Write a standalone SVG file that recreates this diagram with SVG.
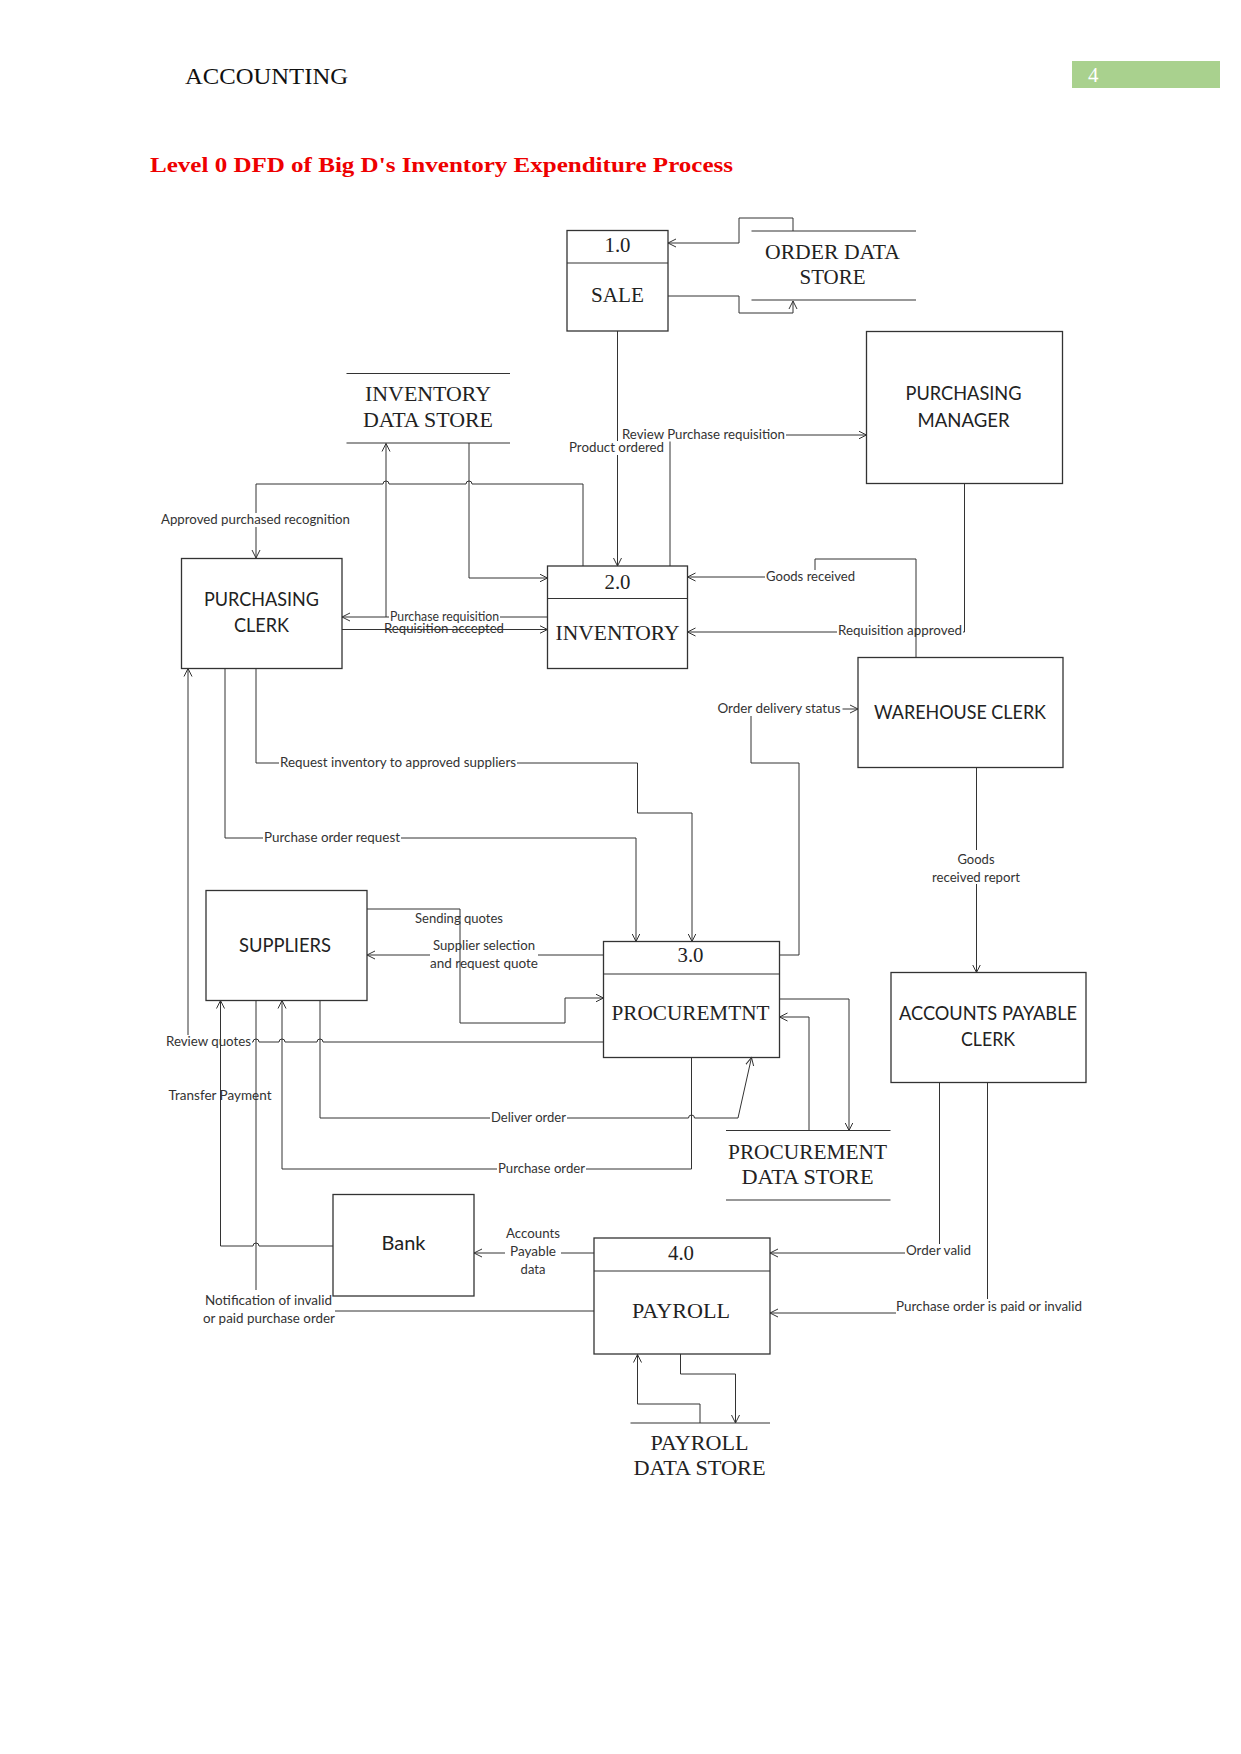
<svg xmlns="http://www.w3.org/2000/svg" width="1241" height="1754" viewBox="0 0 1241 1754">
<defs>
<marker id="arr" markerUnits="userSpaceOnUse" markerWidth="10" markerHeight="10" refX="8" refY="5" orient="auto" viewBox="0 0 10 10">
<path d="M0,1 L8,5 L0,9" fill="none" stroke="#333" stroke-width="1"/>
</marker>
<style>
.box{fill:none;stroke:#333;stroke-width:1.3}
.st{stroke:#333;stroke-width:1.2;fill:none}
.c{fill:none;stroke:#333;stroke-width:1}
.a{marker-end:url(#arr)}
.m{fill:#fff;stroke:none}
.serif{font-family:"Liberation Serif","Times New Roman",serif;fill:#222;text-anchor:middle;font-size:21px}
.num{font-size:20px}
.ent{font-family:Lato,"Liberation Sans",sans-serif;fill:#222;text-anchor:middle;font-size:18.5px}
.lbl{font-family:Lato,"Liberation Sans",sans-serif;fill:#333;font-size:13px;text-anchor:middle}
</style>
</defs>
<rect x="0" y="0" width="1241" height="1754" fill="#fff"/>

<g id="header">
<text x="185" y="83.5" font-family="Liberation Serif, Times New Roman, serif" font-size="24" fill="#111" textLength="163" lengthAdjust="spacingAndGlyphs">ACCOUNTING</text>
<rect x="1072" y="61" width="148" height="27" fill="#a9d18e"/>
<text x="1088" y="82" font-family="Liberation Serif, Times New Roman, serif" font-size="21" fill="#fff">4</text>
<text x="150" y="172" font-family="Liberation Serif, Times New Roman, serif" font-size="22" font-weight="bold" fill="#ee0000" textLength="583" lengthAdjust="spacingAndGlyphs">Level 0 DFD of Big D's Inventory Expenditure Process</text>
</g>

<g id="connectors">
<path class="c a" d="M793,231 V218 H739 V243 H668"/>
<path class="c a" d="M668,296 H739 V313 H793 V301"/>
<path class="c a" d="M617.5,331 V566"/>
<rect class="m" x="568" y="441" width="97" height="14"/>
<text class="lbl" x="616.5" y="452" textLength="95" lengthAdjust="spacingAndGlyphs">Product ordered</text>
<path class="c a" d="M670,566 V435 H866.5"/>
<rect class="m" x="621" y="427.5" width="165" height="14"/>
<text class="lbl" x="703.5" y="438.5" textLength="163" lengthAdjust="spacingAndGlyphs">Review Purchase requisition</text>
<path class="c a" d="M583,566 V484 H472 A3,3 0 0 0 466,484 H389 A3,3 0 0 0 383,484 H256 V558"/>
<rect class="m" x="160" y="513" width="191" height="14"/>
<text class="lbl" x="255.5" y="524" textLength="189" lengthAdjust="spacingAndGlyphs">Approved purchased recognition</text>
<path class="c a" d="M469,443 V578 H547.5"/>
<path class="c a" d="M547.5,617 H342"/>
<path class="c a" d="M386,617 V443.5"/>
<rect class="m" x="389" y="610" width="111" height="13"/>
<text class="lbl" x="444.5" y="620.5" textLength="109" lengthAdjust="spacingAndGlyphs">Purchase requisition</text>
<path class="c a" d="M342,629.5 H547.5"/>
<text class="lbl" x="444" y="633" textLength="120" lengthAdjust="spacingAndGlyphs">Requisition accepted</text>
<path class="c a" d="M964.5,483.5 V632 H687.5"/>
<rect class="m" x="837" y="624.5" width="126" height="14"/>
<text class="lbl" x="900" y="635" textLength="124" lengthAdjust="spacingAndGlyphs">Requisition approved</text>
<path class="c a" d="M916,657.5 V559 H815 V577 H687.5"/>
<rect class="m" x="765" y="570" width="91" height="14"/>
<text class="lbl" x="810.5" y="581" textLength="89" lengthAdjust="spacingAndGlyphs">Goods received</text>
<path class="c a" d="M779.5,955 H799 V763 H751 V709 H858"/>
<rect class="m" x="716.5" y="702" width="126" height="14"/>
<text class="lbl" x="779" y="713" textLength="123" lengthAdjust="spacingAndGlyphs">Order delivery status</text>
<path class="c" d="M976.5,767.5 V850"/>
<path class="c a" d="M976.5,884 V972.5"/>
<text class="lbl" x="976" y="864">Goods</text>
<text class="lbl" x="976" y="881.5" textLength="88" lengthAdjust="spacingAndGlyphs">received report</text>
<path class="c a" d="M256,668.5 V763 H637.5 V813 H692 V941.5"/>
<rect class="m" x="279" y="755.5" width="238" height="14"/>
<text class="lbl" x="398" y="766.5" textLength="236" lengthAdjust="spacingAndGlyphs">Request inventory to approved suppliers</text>
<path class="c a" d="M225,668.5 V838 H636 V941.5"/>
<rect class="m" x="263" y="831" width="138" height="14"/>
<text class="lbl" x="332" y="842" textLength="136" lengthAdjust="spacingAndGlyphs">Purchase order request</text>
<path class="c a" d="M603.5,1042 H323 A3,3 0 0 0 317,1042 H285 A3,3 0 0 0 279,1042 H259 A3,3 0 0 0 253,1042 H188 V668.5"/>
<rect class="m" x="165" y="1035" width="87" height="14"/>
<text class="lbl" x="208.5" y="1046" textLength="85" lengthAdjust="spacingAndGlyphs">Review quotes</text>
<path class="c" d="M603.5,955 H538"/>
<path class="c a" d="M430,955 H367"/>
<text class="lbl" x="484" y="950" textLength="102" lengthAdjust="spacingAndGlyphs">Supplier selection</text>
<text class="lbl" x="484" y="967.5" textLength="108" lengthAdjust="spacingAndGlyphs">and request quote</text>
<path class="c a" d="M367,909 H460 V1023 H565 V998 H603.5"/>
<text class="lbl" x="459" y="923" textLength="88" lengthAdjust="spacingAndGlyphs">Sending quotes</text>
<path class="c a" d="M320,1000.5 V1118 H688.5 A3,3 0 0 1 694.5,1118 H738 L751.5,1057.5"/>
<rect class="m" x="490" y="1110.5" width="77" height="14"/>
<text class="lbl" x="528.5" y="1121.5" textLength="75" lengthAdjust="spacingAndGlyphs">Deliver order</text>
<path class="c a" d="M691.5,1057.5 V1169 H282 V1000.5"/>
<rect class="m" x="497" y="1162" width="89" height="14"/>
<text class="lbl" x="541.5" y="1173" textLength="87" lengthAdjust="spacingAndGlyphs">Purchase order</text>
<path class="c a" d="M333,1246 H259 A3,3 0 0 0 253,1246 H220.5 V1000.5"/>
<text class="lbl" x="220" y="1100" textLength="103" lengthAdjust="spacingAndGlyphs">Transfer Payment</text>
<path class="c" d="M594,1311 H335"/>
<path class="c" d="M256,1290 V1000.5"/>
<text class="lbl" x="268.5" y="1305" textLength="127" lengthAdjust="spacingAndGlyphs">Notification of invalid</text>
<text class="lbl" x="269" y="1323" textLength="132" lengthAdjust="spacingAndGlyphs">or paid purchase order</text>
<path class="c" d="M594,1253 H561"/>
<path class="c a" d="M505,1253 H474"/>
<text class="lbl" x="533" y="1238" textLength="54" lengthAdjust="spacingAndGlyphs">Accounts</text>
<text class="lbl" x="533" y="1256" textLength="46" lengthAdjust="spacingAndGlyphs">Payable</text>
<text class="lbl" x="533" y="1273.5">data</text>
<path class="c a" d="M939.5,1082.5 V1253 H770"/>
<rect class="m" x="905" y="1244" width="67" height="14"/>
<text class="lbl" x="938.5" y="1255" textLength="65" lengthAdjust="spacingAndGlyphs">Order valid</text>
<path class="c a" d="M987.5,1082.5 V1299 M896,1313 H770"/>
<text class="lbl" x="989" y="1310.5" textLength="186" lengthAdjust="spacingAndGlyphs">Purchase order is paid or invalid</text>
<path class="c a" d="M680.5,1354 V1374 H735.5 V1423"/>
<path class="c a" d="M700,1423 V1404 H637.5 V1354.5"/>
<path class="c a" d="M779.5,999 H849 V1130.5"/>
<path class="c a" d="M809,1131 V1017 H779.5"/>
</g>

<g id="sale">
<rect class="box" x="567" y="230.5" width="101" height="100.5"/>
<line class="st" x1="567" y1="263" x2="668" y2="263"/>
<text class="serif num" x="617.5" y="251.5" textLength="26" lengthAdjust="spacingAndGlyphs">1.0</text>
<text class="serif" x="617.5" y="302" textLength="53" lengthAdjust="spacingAndGlyphs">SALE</text>
</g>
<g id="order-store">
<line class="st" x1="751.5" y1="231" x2="916" y2="231"/>
<line class="st" x1="751.5" y1="300" x2="916" y2="300"/>
<text class="serif" x="832.5" y="258.5" textLength="135" lengthAdjust="spacingAndGlyphs">ORDER DATA</text>
<text class="serif" x="832.5" y="283.5" textLength="66" lengthAdjust="spacingAndGlyphs">STORE</text>
</g>
<g id="inventory-store">
<line class="st" x1="346.5" y1="373.5" x2="510" y2="373.5"/>
<line class="st" x1="346.5" y1="443" x2="510" y2="443"/>
<text class="serif" x="428" y="400.5" textLength="126" lengthAdjust="spacingAndGlyphs">INVENTORY</text>
<text class="serif" x="428" y="426.5" textLength="130" lengthAdjust="spacingAndGlyphs">DATA STORE</text>
</g>
<g id="purchasing-manager">
<rect class="box" x="866.5" y="331.5" width="196" height="152"/>
<text class="ent" x="963.5" y="400" textLength="116" lengthAdjust="spacingAndGlyphs">PURCHASING</text>
<text class="ent" x="963.5" y="426.5" textLength="92" lengthAdjust="spacingAndGlyphs">MANAGER</text>
</g>
<g id="purchasing-clerk">
<rect class="box" x="181.5" y="558.5" width="160.5" height="110"/>
<text class="ent" x="261.5" y="605.5" textLength="115" lengthAdjust="spacingAndGlyphs">PURCHASING</text>
<text class="ent" x="261.5" y="631.5" textLength="55" lengthAdjust="spacingAndGlyphs">CLERK</text>
</g>
<g id="inventory">
<rect class="box" x="547.5" y="566" width="140" height="102.5"/>
<line class="st" x1="547.5" y1="598.5" x2="687.5" y2="598.5"/>
<text class="serif num" x="617.5" y="588.5" textLength="26" lengthAdjust="spacingAndGlyphs">2.0</text>
<text class="serif" x="617.5" y="639.5" textLength="124" lengthAdjust="spacingAndGlyphs">INVENTORY</text>
</g>
<g id="warehouse-clerk">
<rect class="box" x="858" y="657.5" width="205" height="110"/>
<text class="ent" x="960" y="718.5" textLength="172" lengthAdjust="spacingAndGlyphs">WAREHOUSE CLERK</text>
</g>
<g id="suppliers">
<rect class="box" x="206" y="890.5" width="161" height="110"/>
<text class="ent" x="285" y="951.5" textLength="92" lengthAdjust="spacingAndGlyphs">SUPPLIERS</text>
</g>
<g id="procurement">
<rect class="box" x="603.5" y="941.5" width="176" height="116"/>
<line class="st" x1="603.5" y1="974" x2="779.5" y2="974"/>
<text class="serif num" x="690.5" y="961.5" textLength="26" lengthAdjust="spacingAndGlyphs">3.0</text>
<text class="serif" x="690.5" y="1020" textLength="158" lengthAdjust="spacingAndGlyphs">PROCUREMTNT</text>
</g>
<g id="accounts-payable-clerk">
<rect class="box" x="891" y="972.5" width="195" height="110"/>
<text class="ent" x="988" y="1020" textLength="178" lengthAdjust="spacingAndGlyphs">ACCOUNTS PAYABLE</text>
<text class="ent" x="988" y="1046" textLength="54" lengthAdjust="spacingAndGlyphs">CLERK</text>
</g>
<g id="procurement-store">
<line class="st" x1="726" y1="1130.5" x2="890.5" y2="1130.5"/>
<line class="st" x1="726" y1="1200" x2="890.5" y2="1200"/>
<text class="serif" x="807.5" y="1158.5" textLength="159" lengthAdjust="spacingAndGlyphs">PROCUREMENT</text>
<text class="serif" x="807.5" y="1184" textLength="132" lengthAdjust="spacingAndGlyphs">DATA STORE</text>
</g>
<g id="bank">
<rect class="box" x="333" y="1194.5" width="141" height="101.5"/>
<text class="ent" x="403.5" y="1250" textLength="44" lengthAdjust="spacingAndGlyphs">Bank</text>
</g>
<g id="payroll">
<rect class="box" x="594" y="1238" width="176" height="116"/>
<line class="st" x1="594" y1="1271" x2="770" y2="1271"/>
<text class="serif num" x="681" y="1260" textLength="26" lengthAdjust="spacingAndGlyphs">4.0</text>
<text class="serif" x="681" y="1317.5" textLength="98" lengthAdjust="spacingAndGlyphs">PAYROLL</text>
</g>
<g id="payroll-store">
<line class="st" x1="630.5" y1="1423" x2="770" y2="1423"/>
<text class="serif" x="699.5" y="1450" textLength="98" lengthAdjust="spacingAndGlyphs">PAYROLL</text>
<text class="serif" x="699.5" y="1475" textLength="132" lengthAdjust="spacingAndGlyphs">DATA STORE</text>
</g>
</svg>
